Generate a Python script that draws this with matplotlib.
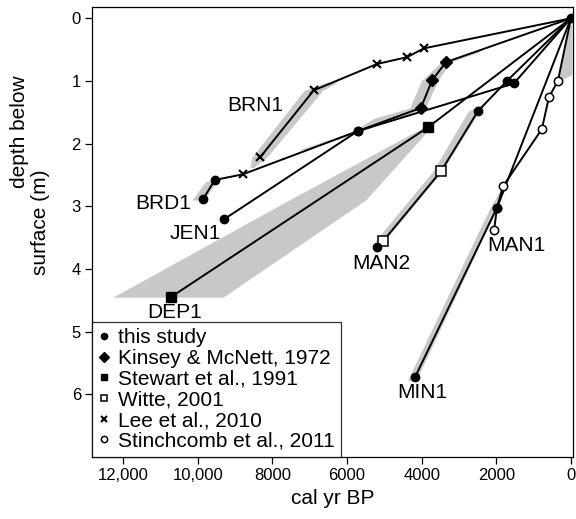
import matplotlib
matplotlib.use("Agg")
import matplotlib.pyplot as plt
from matplotlib.lines import Line2D

plt.rcParams['font.family'] = ['Liberation Sans', 'DejaVu Sans']

# age (cal yr BP) / depth (m) of dated levels per profile, surface first
brn1_age = [0, 3940, 4390, 5200, 6890, 8330]
brn1_depth = [0, 0.48, 0.62, 0.73, 1.15, 2.22]
brn1_src = [None, 'lee', 'lee', 'lee', 'lee', 'lee']

brd1_age = [0, 3350, 3720, 4020, 5710, 8790, 9540, 9860]
brd1_depth = [0, 0.70, 0.99, 1.43, 1.80, 2.49, 2.58, 2.89]
brd1_src = [None, 'kinsey', 'kinsey', 'kinsey', 'this', 'lee', 'this', 'this']

jen1_age = [0, 1530, 5710, 9300]
jen1_depth = [0, 1.04, 1.80, 3.21]
jen1_src = [None, 'this', 'this', 'this']

man2_age = [0, 1715, 2490, 3480, 5040, 5200]
man2_depth = [0, 1.00, 1.48, 2.44, 3.56, 3.65]
man2_src = [None, 'this', 'this', 'witte', 'witte', 'this']

dep1_age = [0, 3830, 10720]
dep1_depth = [0, 1.74, 4.45]
dep1_src = [None, 'stewart', 'stewart']

man1_age = [0, 350, 590, 780, 1820, 1980, 2060]
man1_depth = [0, 1.00, 1.26, 1.77, 2.68, 3.02, 3.38]
man1_src = [None, 'stinch', 'stinch', 'stinch', 'stinch', 'this', 'stinch']

min1_age = [0, 1980, 4180]
min1_depth = [0, 3.02, 5.73]
min1_src = [None, 'this', 'this']

# grey age envelopes: depth, young edge, old edge
brn1_band_depth = [1.02, 1.15, 2.22, 2.38]
brn1_band_lo = [6250, 6650, 8150, 8500]
brn1_band_hi = [6550, 7150, 8550, 8600]

brd1_band_depth = [0.52, 0.70, 0.99, 1.43, 1.60, 1.80, 2.10]
brd1_band_lo = [2380, 3230, 3560, 3900, 4700, 5600, 7150]
brd1_band_hi = [2580, 3480, 4000, 4320, 5300, 5800, 7300]

brd1_end_depth = [2.60, 2.90]
brd1_end_lo = [9500, 9820]
brd1_end_hi = [9780, 10150]

man2_band_depth = [1.38, 1.48, 2.44, 3.56]
man2_band_lo = [2300, 2450, 3450, 5000]
man2_band_hi = [2400, 2750, 3700, 5250]

dep1_band_depth = [1.74, 2.90, 4.45]
dep1_band_lo = [3750, 5500, 9320]
dep1_band_hi = [3950, 7550, 12270]

min1_band_depth = [2.70, 3.00, 5.78]
min1_band_lo = [1750, 1960, 4150]
min1_band_hi = [1850, 2150, 4380]

man1_band_depth = [0.10, 0.90, 1.00]
man1_band_lo = [-20, -20, 300]
man1_band_hi = [35, 312, 348]

# label text and position (age, depth)
site_names = ['BRN1', 'BRD1', 'JEN1', 'DEP1', 'MAN2', 'MAN1', 'MIN1']
label_age = [8460, 10930, 10050, 10610, 5090, 1470, 3990]
label_depth = [1.39, 2.95, 3.43, 4.69, 3.91, 3.62, 5.97]

src_names = ['this', 'kinsey', 'stewart', 'witte', 'lee', 'stinch']
src_labels = ['this study', 'Kinsey & McNett, 1972', 'Stewart et al., 1991',
              'Witte, 2001', 'Lee et al., 2010', 'Stinchcomb et al., 2011']

styles = {
    'this': dict(marker='o', ms=6, mfc='black', mec='black'),
    'kinsey': dict(marker='D', ms=6.5, mfc='black', mec='black'),
    'stewart': dict(marker='s', ms=6.5, mfc='black', mec='black'),
    'witte': dict(marker='s', ms=6.5, mfc='white', mec='black', mew=1.1),
    'lee': dict(marker='x', ms=6, mfc='black', mec='black', mew=1.5),
    'stinch': dict(marker='o', ms=6, mfc='white', mec='black', mew=1.1),
}
legend_ms = {'this': 4.5, 'kinsey': 5.5, 'stewart': 5, 'witte': 5,
             'lee': 4.5, 'stinch': 4.5}

GREY = '#c8c8c8'

fig = plt.figure(figsize=(5.76, 5.19), dpi=100)
ax = fig.add_axes([0.1597, 0.1195, 0.8351, 0.867])

bands = [
    (brn1_band_depth, brn1_band_lo, brn1_band_hi),
    (brd1_band_depth, brd1_band_lo, brd1_band_hi),
    (brd1_end_depth, brd1_end_lo, brd1_end_hi),
    (man2_band_depth, man2_band_lo, man2_band_hi),
    (dep1_band_depth, dep1_band_lo, dep1_band_hi),
    (min1_band_depth, min1_band_lo, min1_band_hi),
    (man1_band_depth, man1_band_lo, man1_band_hi),
]
for d, lo, hi in bands:
    ax.fill_betweenx(d, lo, hi, color=GREY, lw=0, zorder=1)

profiles = [
    (brn1_age, brn1_depth, brn1_src),
    (brd1_age, brd1_depth, brd1_src),
    (jen1_age, jen1_depth, jen1_src),
    (man2_age, man2_depth, man2_src),
    (dep1_age, dep1_depth, dep1_src),
    (man1_age, man1_depth, man1_src),
    (min1_age, min1_depth, min1_src),
]
for ages, depths, srcs in profiles:
    ax.plot(ages, depths, color='black', lw=1.4, zorder=2)
for ages, depths, srcs in profiles:
    for a, d, s in zip(ages, depths, srcs):
        if s is None:
            continue
        ax.plot([a], [d], ls='none', zorder=3, **styles[s])
ax.plot([0], [0], ls='none', zorder=3, **styles['this'])

for name, a, d in zip(site_names, label_age, label_depth):
    ax.text(a, d, name, fontsize=15, ha='center', va='center')

handles = []
for s in src_names:
    st = dict(styles[s])
    st['ms'] = legend_ms[s]
    handles.append(Line2D([], [], ls='none', **st))
leg = ax.legend(handles, src_labels, loc='lower left', fontsize=15,
                frameon=True, fancybox=False, borderaxespad=0,
                borderpad=0.3, labelspacing=0.08, handlelength=0.6,
                handletextpad=0.35)
leg.get_frame().set_edgecolor('black')
leg.get_frame().set_linewidth(0.9)

ax.set_xlim(12830, -55)
ax.set_ylim(7.0, -0.18)
ax.set_xticks([12000, 10000, 8000, 6000, 4000, 2000, 0])
ax.set_xticklabels(['12,000', '10,000', '8000', '6000', '4000', '2000', '0'])
ax.set_yticks(range(7))
ax.tick_params(direction='out', length=5, width=0.9, labelsize=12, pad=3)
for sp in ax.spines.values():
    sp.set_linewidth(0.9)

ax.set_xlabel('cal yr BP', fontsize=15, labelpad=4)
# y label set as two staggered lines, as in the source figure
fig.text(20 / 576, 1 - 132 / 519, 'depth below', rotation=90, fontsize=15,
         ha='center', va='center')
fig.text(40 / 576, 1 - 222 / 519, 'surface (m)', rotation=90, fontsize=15,
         ha='center', va='center')

fig.savefig('out.png', dpi=100)
